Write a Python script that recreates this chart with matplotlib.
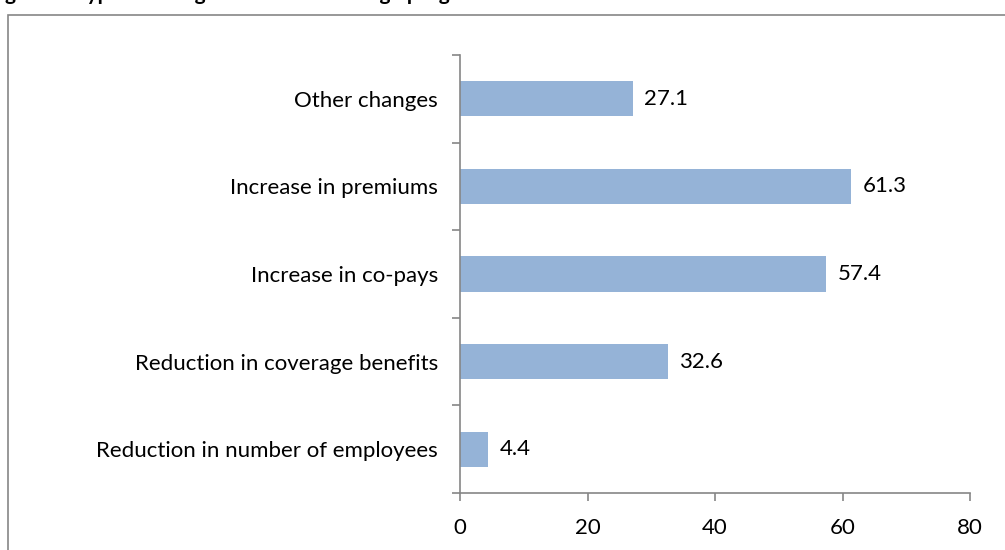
import matplotlib.pyplot as plt
import matplotlib.patches as patches
import numpy as np

categories = ['Reduction in number of employees', 'Reduction in coverage benefits',
              'Increase in co-pays', 'Increase in premiums', 'Other changes']
values = [4.4, 32.6, 57.4, 61.3, 27.1]
xticks = [0, 20, 40, 60, 80]

plt.rcParams['font.family'] = ['Lato', 'DejaVu Sans']
gray = '#868686'
fs = 16

fig = plt.figure(figsize=(10.05, 5.5), dpi=100)
ax = fig.add_axes([460/1005, 1-493/550, 510/1005, 438/550])

y = np.arange(len(categories))
ax.barh(y, values, height=0.4, color='#95B3D7')
for yi, v in zip(y, values):
    ax.text(v + 1.8, yi, f'{v:.1f}', va='center', ha='left', fontsize=fs)

ax.set_xlim(0, 80)
ax.set_ylim(-0.5, len(categories) - 0.5)
ax.set_xticks(xticks)
ax.set_xticklabels([str(t) for t in xticks], fontsize=fs)
ax.set_yticks(np.arange(-0.5, len(categories), 1.0))
ax.set_yticklabels([])
ax.set_yticks(y, minor=True)
ax.set_yticklabels(categories, minor=True, fontsize=fs)
ax.tick_params(axis='y', which='minor', length=0, pad=16)
ax.tick_params(axis='y', which='major', length=6, color=gray, width=1.2)
ax.tick_params(axis='x', length=6, color=gray, width=1.2, pad=12)
for s in ['top', 'right']:
    ax.spines[s].set_visible(False)
for s in ['left', 'bottom']:
    ax.spines[s].set_color(gray)
    ax.spines[s].set_linewidth(1.2)

# outer chart border
fig.patches.append(patches.Rectangle((8/1005, -0.2), 1.2, 0.2 + 1 - 15/550,
                                     transform=fig.transFigure, fill=False,
                                     edgecolor=gray, linewidth=1.2, clip_on=False))
# title cut off at the top of the image
fig.text(-0.012, 1.011, 'Figure 8. Type of changes in health coverage programs',
         fontsize=15, fontweight='bold', ha='left', va='center')

fig.savefig('out.png', dpi=100)
